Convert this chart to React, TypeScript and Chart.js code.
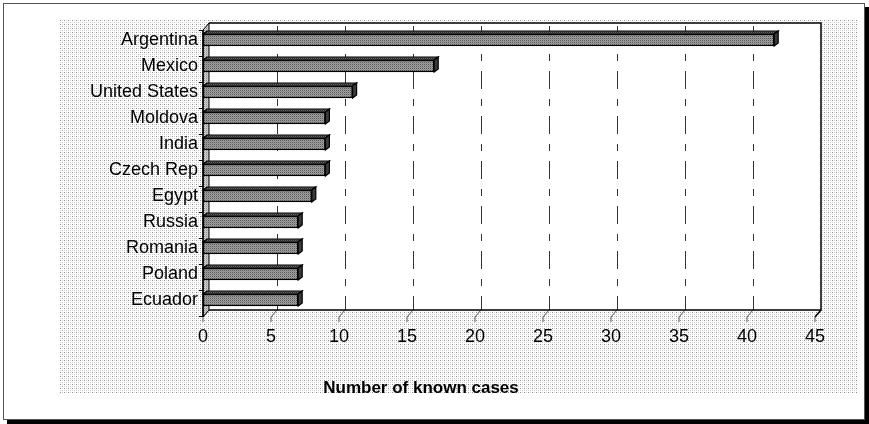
import React, { useEffect, useRef } from "react";
import { Chart, registerables } from "chart.js";

Chart.register(...registerables);

// ---- data ----
const categories = [
  "Argentina",
  "Mexico",
  "United States",
  "Moldova",
  "India",
  "Czech Rep",
  "Egypt",
  "Russia",
  "Romania",
  "Poland",
  "Ecuador",
];
const knownCases = [42, 17, 11, 9, 9, 9, 8, 7, 7, 7, 7];
const xMin = 0;
const xMax = 45;
const xStep = 5;
const axisTitle = "Number of known cases";

const FONT = "'Liberation Sans', Arial, sans-serif";

function makePattern(
  ctx: CanvasRenderingContext2D,
  w: number,
  h: number,
  base: string,
  dots: [number, number, string][]
) {
  const c = document.createElement("canvas");
  c.width = w;
  c.height = h;
  const g = c.getContext("2d")!;
  g.fillStyle = base;
  g.fillRect(0, 0, w, h);
  for (const [x, y, col] of dots) {
    g.fillStyle = col;
    g.fillRect(x, y, 1, 1);
  }
  return ctx.createPattern(c, "repeat") as CanvasPattern;
}

export default function App() {
  const ref = useRef<HTMLCanvasElement>(null);

  useEffect(() => {
    const canvas = ref.current!;
    const c2d = canvas.getContext("2d")!;
    const bgPat = makePattern(c2d, 4, 4, "#ffffff", [
      [0, 0, "#8e8e8e"],
      [2, 0, "#d2d2d2"],
      [0, 2, "#d6d6d6"],
      [2, 2, "#c4c4c4"],
    ]);
    const frontPat = makePattern(c2d, 2, 2, "#a0a0a0", [
      [0, 0, "#5a5a5a"],
      [1, 1, "#888888"],
    ]);
    const topPat = makePattern(c2d, 2, 2, "#666666", [
      [0, 0, "#2a2a2a"],
      [1, 1, "#4c4c4c"],
    ]);
    const wallPat = makePattern(c2d, 2, 2, "#d0d0d0", [
      [0, 0, "#8a8a8a"],
      [1, 1, "#b8b8b8"],
    ]);

    const DX = 6;
    const DY = 7;

    const deco = {
      id: "deco",
      beforeDraw(chart: any) {
        const { ctx, chartArea: ca, scales } = chart;
        const xs = scales.x;
        const ys = scales.y;
        ctx.save();
        // outer frame with shadow
        ctx.fillStyle = "#000";
        ctx.fillRect(7, 7, 862, 417);
        ctx.fillStyle = "#fff";
        ctx.fillRect(3, 3, 862, 417);
        ctx.strokeStyle = "#555";
        ctx.lineWidth = 1;
        ctx.strokeRect(3.5, 3.5, 861, 416);
        // dotted chart background
        ctx.fillStyle = bgPat;
        ctx.fillRect(60, 20, 797, 373);

        const fl = ca.left;
        const fb = ca.bottom + 4;
        const bl = fl + DX;
        const bb = fb - DY;
        const bt = ca.top - 4;
        const br = ca.right + DX;

        // back wall
        ctx.fillStyle = "#fff";
        ctx.fillRect(bl, bt, br - bl, bb - bt);

        // gridlines on back wall
        ctx.strokeStyle = "#333";
        ctx.lineWidth = 1;
        ctx.setLineDash([18, 10, 7, 10]);
        for (let v = xMin + xStep; v < xMax; v += xStep) {
          const px = Math.round(xs.getPixelForValue(v) + DX) + 0.5;
          ctx.beginPath();
          ctx.moveTo(px, bt + 3);
          ctx.lineTo(px, bb);
          ctx.stroke();
        }
        ctx.setLineDash([]);

        // floor diagonals + ticks
        ctx.strokeStyle = "#555";
        for (let v = xMin; v <= xMax; v += xStep) {
          const px = xs.getPixelForValue(v);
          ctx.beginPath();
          ctx.moveTo(px + DX, bb);
          ctx.lineTo(px, fb);
          ctx.lineTo(px, fb + 5);
          ctx.stroke();
        }

        // back wall border
        ctx.strokeStyle = "#000";
        ctx.lineWidth = 1.5;
        ctx.beginPath();
        ctx.moveTo(bl, bt);
        ctx.lineTo(br, bt);
        ctx.lineTo(br, bb);
        ctx.lineTo(bl, bb);
        ctx.stroke();
        ctx.beginPath();
        ctx.moveTo(br, bb);
        ctx.lineTo(ca.right, fb);
        ctx.stroke();

        // left side wall
        ctx.fillStyle = wallPat;
        ctx.beginPath();
        ctx.moveTo(fl, bt + DY);
        ctx.lineTo(bl, bt);
        ctx.lineTo(bl, bb);
        ctx.lineTo(fl, fb);
        ctx.closePath();
        ctx.fill();
        ctx.lineWidth = 1;
        ctx.stroke();
        ctx.lineWidth = 1.5;
        ctx.beginPath();
        ctx.moveTo(fl, bt + DY);
        ctx.lineTo(fl, fb);
        ctx.stroke();

        // category ticks on left wall
        ctx.lineWidth = 1;
        const half =
          (ys.getPixelForValue(1) - ys.getPixelForValue(0)) / 2;
        for (let i = 0; i <= categories.length; i++) {
          const yy =
            Math.round(
              ys.getPixelForValue(Math.min(i, categories.length - 1)) +
                (i === categories.length ? half : -half) +
                3
            ) + 0.5;
          ctx.beginPath();
          ctx.moveTo(fl - 4, yy);
          ctx.lineTo(fl, yy);
          ctx.stroke();
        }
        ctx.restore();
      },
      afterDatasetsDraw(chart: any) {
        const { ctx } = chart;
        const meta = chart.getDatasetMeta(0);
        const d = 4;
        const e = 3;
        ctx.save();
        ctx.strokeStyle = "#000";
        ctx.lineWidth = 1.2;
        meta.data.forEach((el: any) => {
          const { x, y, base, height } = el.getProps(
            ["x", "y", "base", "height"],
            true
          );
          const top = y - height / 2;
          const bot = y + height / 2;
          // top face
          ctx.fillStyle = topPat;
          ctx.beginPath();
          ctx.moveTo(base, top);
          ctx.lineTo(base + d, top - e);
          ctx.lineTo(x + d, top - e);
          ctx.lineTo(x, top);
          ctx.closePath();
          ctx.fill();
          ctx.stroke();
          // right face
          ctx.fillStyle = "#3a3a3a";
          ctx.beginPath();
          ctx.moveTo(x, top);
          ctx.lineTo(x + d, top - e);
          ctx.lineTo(x + d, bot - e);
          ctx.lineTo(x, bot);
          ctx.closePath();
          ctx.fill();
          ctx.stroke();
        });
        ctx.restore();
      },
      afterDraw(chart: any) {
        const { ctx } = chart;
        ctx.save();
        ctx.fillStyle = "#000";
        ctx.font = `bold 17px ${FONT}`;
        ctx.textAlign = "center";
        ctx.textBaseline = "middle";
        ctx.fillText(axisTitle, 421, 388);
        ctx.restore();
      },
    };

    const chart = new Chart(canvas, {
      type: "bar",
      data: {
        labels: categories,
        datasets: [
          {
            data: knownCases,
            backgroundColor: frontPat,
            borderColor: "#000",
            borderWidth: 1.5,
            borderSkipped: false,
            barThickness: 12,
          } as any,
        ],
      },
      options: {
        indexAxis: "y",
        animation: false,
        responsive: false,
        events: [],
        layout: { padding: { left: 0, top: 27, right: 54, bottom: 0 } },
        plugins: {
          legend: { display: false },
          tooltip: { enabled: false },
          title: { display: false },
        },
        scales: {
          x: {
            type: "linear",
            min: xMin,
            max: xMax,
            grid: { display: false, drawTicks: false },
            border: { display: false },
            ticks: {
              stepSize: xStep,
              color: "#000",
              font: { family: FONT, size: 18 },
              padding: 13,
              maxRotation: 0,
              autoSkip: false,
            },
            afterFit(s: any) {
              s.height = 111;
            },
          },
          y: {
            grid: { display: false, drawTicks: false },
            border: { display: false },
            ticks: {
              color: "#000",
              font: { family: FONT, size: 18 },
              padding: 5,
              autoSkip: false,
            },
            afterFit(s: any) {
              s.width = 203;
            },
          },
        },
      } as any,
      plugins: [deco],
    });

    return () => chart.destroy();
  }, []);

  return (
    <div
      style={{
        position: "fixed",
        left: 0,
        top: 0,
        width: 869,
        height: 424,
        background: "#fff",
      }}
    >
      <canvas
        ref={ref}
        width={869}
        height={424}
        style={{ display: "block", width: 869, height: 424 }}
      />
    </div>
  );
}
